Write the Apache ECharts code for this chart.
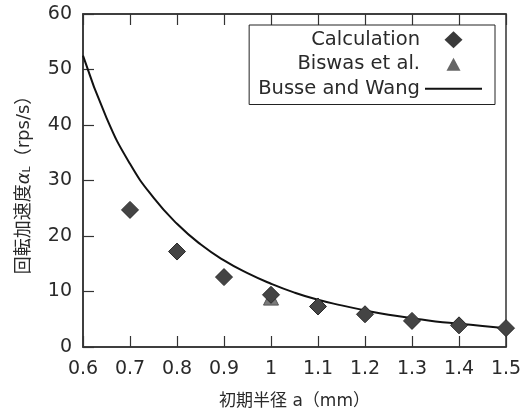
<!DOCTYPE html>
<html>
<head>
<meta charset="utf-8">
<script src="https://cdn.jsdelivr.net/npm/echarts@6/dist/echarts.min.js"></script>
<style>html,body{margin:0;padding:0;background:#fff;}#c{width:532px;height:409px;}</style>
</head>
<body>
<div id="c"></div>
<script>
const xTicks = [0.6, 0.7, 0.8, 0.9, 1.0, 1.1, 1.2, 1.3, 1.4, 1.5];
const calcX = [0.7, 0.8, 0.9, 1.0, 1.1, 1.2, 1.3, 1.4, 1.5];
const calcY = [24.7, 17.2, 12.6, 9.4, 7.3, 5.9, 4.7, 3.9, 3.4];
const biswasX = [1.0];
const biswasY = [8.9];
const busseX = [0.6, 0.65, 0.7, 0.75, 0.8, 0.85, 0.9, 0.95, 1.0, 1.05, 1.1, 1.15, 1.2, 1.25, 1.3, 1.35, 1.4, 1.45, 1.5];
const busseY = [52.5, 41.3, 33.0, 26.9, 22.2, 18.5, 15.6, 13.3, 11.4, 9.8, 8.5, 7.5, 6.6, 5.8, 5.2, 4.6, 4.2, 3.8, 3.4];
const seriesNames = ['Calculation', 'Biswas et al.', 'Busse and Wang'];

const FONT = 'DejaVu Sans, "Noto Sans CJK JP", sans-serif';
const TXT = '#2a2a2a';
const zip = (xs, ys) => xs.map((x, i) => [x, ys[i]]);

// legend icon shapes inside a 57x17 box (invisible move points fix the bounds)
const ICON_BOUNDS = 'M0,0 M57,17 ';
const iconDiamond = 'path://' + ICON_BOUNDS + 'M28.5,0 L37.5,8.5 L28.5,17 L19.5,8.5 Z';
const iconTriangle = 'path://' + ICON_BOUNDS + 'M28.5,2 L35.5,15 L21.5,15 Z';
const iconLine = 'path://' + ICON_BOUNDS + 'M0,7.5 L57,7.5 L57,9.5 L0,9.5 Z';

const chart = echarts.init(document.getElementById('c'), null, {renderer: 'canvas'});
chart.setOption({
  animation: false,
  backgroundColor: '#fff',
  textStyle: {fontFamily: FONT, color: TXT},
  grid: {left: 83, top: 14, right: 26, bottom: 62, containLabel: false, outerBoundsMode: 'none',
    show: true, borderColor: '#333', borderWidth: 1.5, backgroundColor: 'transparent'},
  legend: {
    orient: 'vertical',
    right: 37, top: 25,
    align: 'right',
    data: [
      {name: seriesNames[0], icon: iconDiamond, itemStyle: {color: '#3a3a3a', borderWidth: 0}},
      {name: seriesNames[1], icon: iconTriangle, itemStyle: {color: '#666', borderWidth: 0}},
      {name: seriesNames[2], icon: iconLine, itemStyle: {color: '#111', borderWidth: 0}}
    ],
    itemWidth: 57, itemHeight: 17, itemGap: 5,
    padding: [5, 13, 6, 9],
    borderColor: '#222', borderWidth: 1,
    backgroundColor: '#fff',
    textStyle: {fontFamily: FONT, fontSize: 19.5, color: TXT}
  },
  xAxis: [{
    type: 'value', min: 0.6, max: 1.5, interval: 0.1,
    name: '初期半径 a（mm）', nameLocation: 'middle', nameGap: 46,
    nameTextStyle: {fontFamily: FONT, fontSize: 17, color: TXT},
    axisLine: {show: true, lineStyle: {color: '#333', width: 1.5}},
    axisTick: {show: true, inside: true, length: 11, lineStyle: {color: '#333', width: 1.2}},
    axisLabel: {fontFamily: FONT, fontSize: 19, color: TXT, margin: 13,
      formatter: v => xTicks.includes(Math.round(v * 10) / 10) ? String(Math.round(v * 10) / 10) : ''},
    splitLine: {show: false}
  }, {
    type: 'value', position: 'top', min: 0.6, max: 1.5, interval: 0.1,
    axisLine: {show: true, lineStyle: {color: '#333', width: 1.5}},
    axisTick: {show: true, inside: true, length: 11, lineStyle: {color: '#333', width: 1.2}},
    axisLabel: {show: false},
    splitLine: {show: false}
  }],
  yAxis: [{
    type: 'value', min: 0, max: 60, interval: 10,
    name: '回転加速度{a|α}{s|L}（rps/s）', nameLocation: 'middle', nameRotate: 90, nameGap: 50,
    nameTextStyle: {fontFamily: FONT, fontSize: 18, color: TXT,
      rich: {
        a: {fontFamily: FONT, fontSize: 18, fontStyle: 'italic', color: TXT},
        s: {fontFamily: FONT, fontSize: 11, color: TXT, verticalAlign: 'bottom', padding: [6, 0, 0, 0]}
      }},
    axisLine: {show: true, lineStyle: {color: '#333', width: 1.5}},
    axisTick: {show: true, inside: true, length: 11, lineStyle: {color: '#333', width: 1.2}},
    axisLabel: {fontFamily: FONT, fontSize: 19, color: TXT, margin: 11},
    splitLine: {show: false}
  }],
  series: [{
    name: seriesNames[2], type: 'line', smooth: true, symbol: 'none', showSymbol: false,
    data: zip(busseX, busseY), clip: true,
    lineStyle: {color: '#111', width: 2}, itemStyle: {color: '#111'}, z: 2
  }, {
    name: seriesNames[1], type: 'scatter', symbol: 'triangle', symbolSize: 15,
    data: zip(biswasX, biswasY),
    itemStyle: {color: '#7a7a7a', borderColor: '#555', borderWidth: 1, opacity: 1}, z: 3
  }, {
    name: seriesNames[0], type: 'scatter', symbol: 'diamond', symbolSize: 17,
    data: zip(calcX, calcY),
    itemStyle: {color: '#444', borderColor: '#2a2a2a', borderWidth: 1, opacity: 1}, z: 4
  }]
});
</script>
</body>
</html>
